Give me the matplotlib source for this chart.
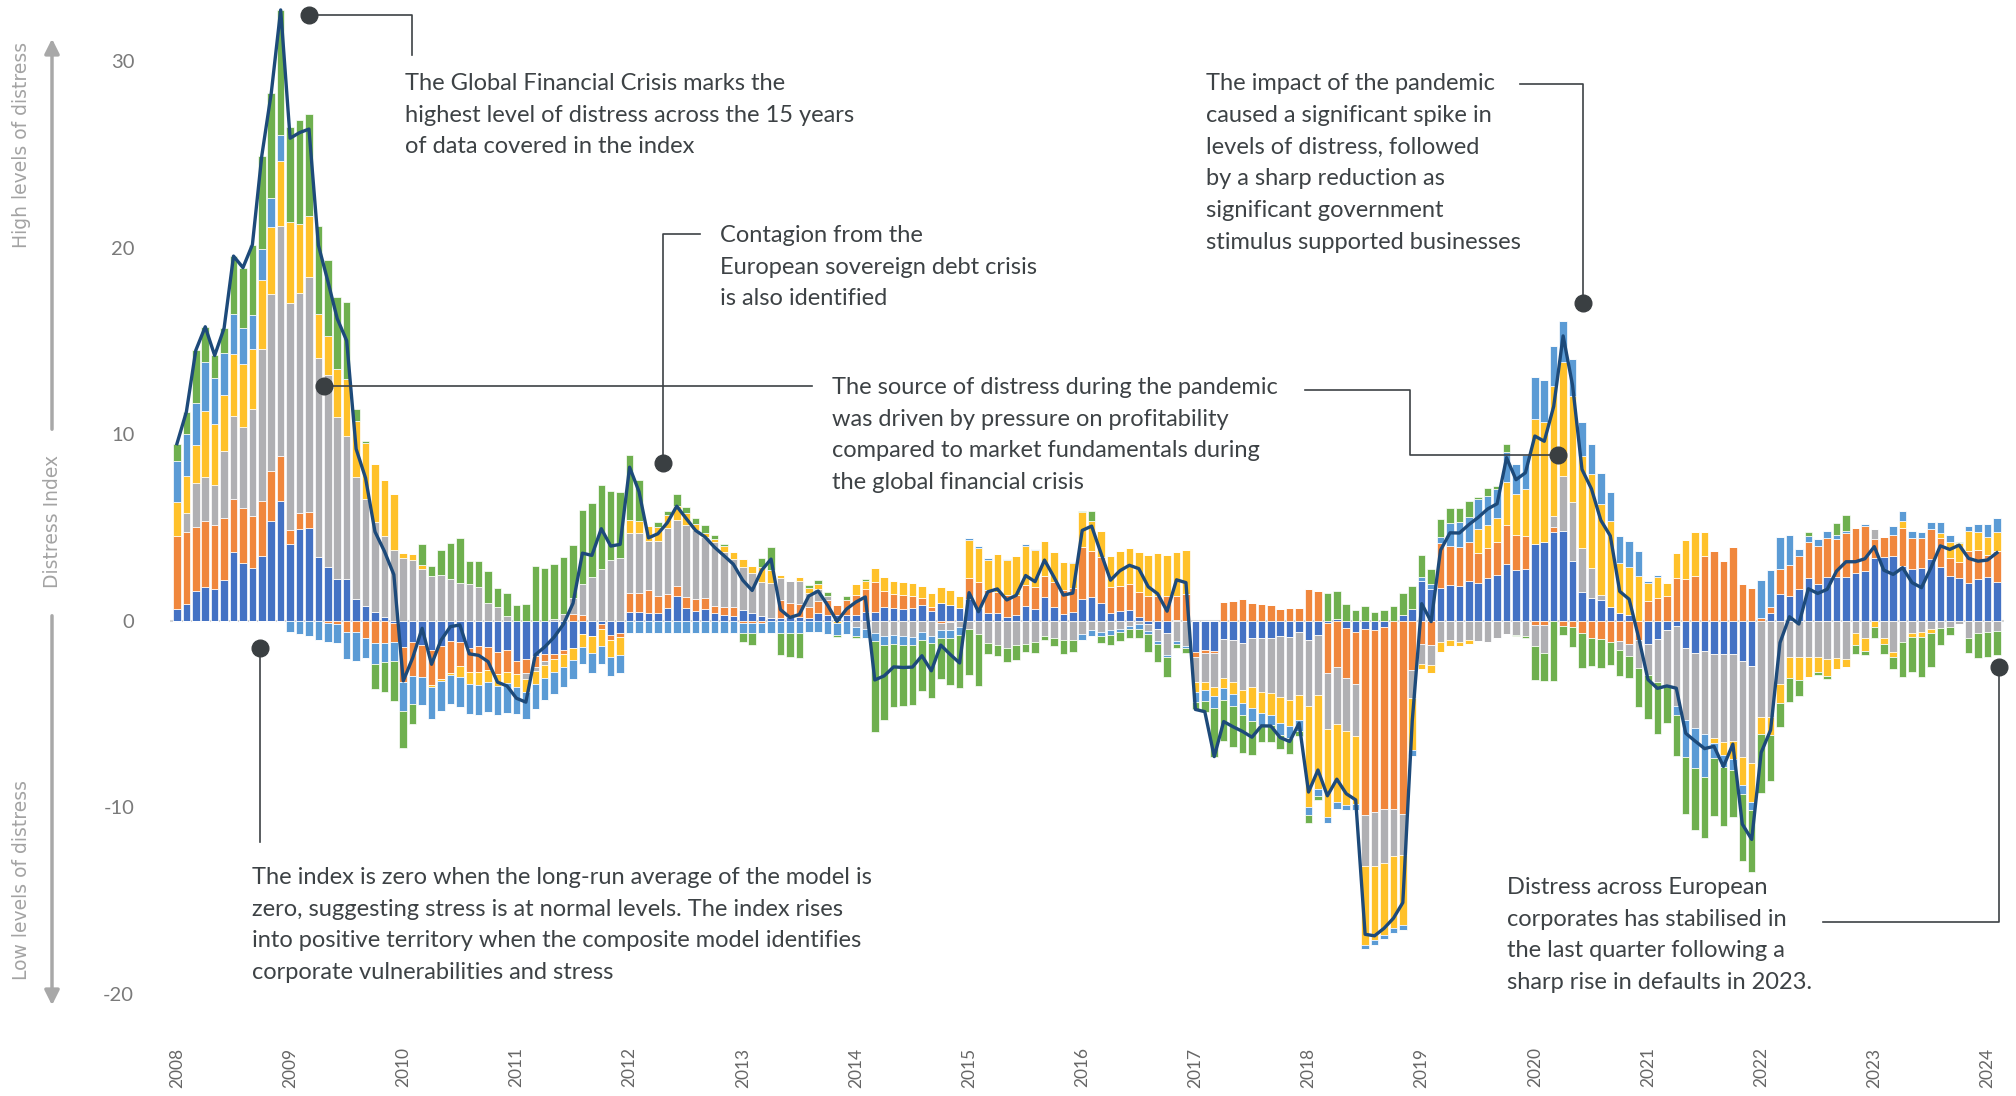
import numpy as np
import matplotlib
matplotlib.use("Agg")
import matplotlib.pyplot as plt

# monthly components of the distress index, Jan 2008 .. Feb 2024
blue = [0.64, 0.92, 1.57, 1.79, 1.68, 2.16, 3.67, 3.11, 2.8, 3.45, 5.35, 6.39,
        4.09, 4.93, 4.99, 3.39, 2.86, 2.24, 2.24, 1.18, 0.78, 0.45, 0.22, -0.1,
        -1.39, -1.13, -1.32, -1.57, -1.36, -1.07, -1.16, -1.45, -1.34, -1.43, -1.7, -1.57,
        -2.16, -2.05, -1.88, -1.79, -1.8, -1.57, -1.48, -0.71, -0.82, -0.18, -0.77, -0.68,
        0.45, 0.48, 0.39, 0.39, 0.7, 1.32, 0.7, 0.54, 0.61, 0.39, 0.3, 0.27,
        0.57, 0.43, 0.27, 0.12, 0.12, 0.18, 0.18, 0.12, 0.39, 0.3, 0.3, 0.3,
        0.3, 0.48, 0.48, 0.75, 0.7, 0.63, 0.66, 0.84, 0.54, 0.93, 0.84, 0.66,
        1.16, 0.66, 0.43, 0.39, 0.18, 0.3, 0.79, 0.63, 1.29, 0.75, 0.34, 0.45,
        1.14, 1.25, 0.96, 0.39, 0.54, 0.57, 0.18, -0.2, -0.45, -0.68, 0.05, 0,
        -1.66, -1.57, -1.63, -0.98, -1.04, -1.21, -0.95, -0.95, -0.95, -0.82, -0.89, -0.59,
        -1.04, -0.77, -0.14, 0.07, -0.41, -0.59, -0.45, -0.5, -0.32, 0, 0.3, 0.63,
        2.14, 1.7, 1.73, 1.91, 1.88, 2.13, 2.0, 2.27, 2.45, 3.02, 2.71, 2.76,
        4.09, 4.23, 4.75, 4.83, 3.2, 1.51, 1.21, 1.11, 0.75, 0.42, 0.32, 0,
        -1.27, -0.97, -0.52, -0.28, -1.47, -1.71, -1.63, -1.77, -1.77, -1.77, -2.16, -2.42,
        0, 0.43, 1.41, 1.34, 1.68, 2.27, 1.96, 2.36, 2.32, 2.32, 2.57, 2.68,
        3.34, 3.43, 3.48, 2.93, 2.77, 2.84, 3.3, 2.86, 2.41, 2.3, 2.0, 2.23,
        2.32, 2.09]
orange = [3.9, 3.84, 3.47, 3.53, 3.47, 3.33, 2.86, 2.94, 2.8, 2.94, 2.66, 2.46,
          0.76, 0.84, 0.84, 0, -0.1, -0.2, -0.6, -0.62, -0.95, -1.18, -1.18, -1.04,
          -1.88, -1.84, -1.68, -1.88, -1.77, -1.75, -1.27, -1.32, -1.43, -1.21, -1.16, -1.2,
          -0.7, -0.73, -0.63, -0.36, -0.25, -0.21, 0.34, 0.3, 0, -0.27, -0.27, -0.18,
          1.05, 1.0, 1.25, 0.95, 0.73, 0.55, 0.55, 0.61, 0.63, 0.41, 0.41, 0.45,
          -0.1, -0.1, -0.1, 0, 0.98, 0.75, 0.71, 0.63, 0.68, 0.8, 0.54, 0.8,
          1.1, 1.23, 1.61, 0.86, 0.73, 0.75, 0.66, 0.39, 0.18, -0.14, -0.09, 0,
          1.14, 1.43, 1.21, 1.16, 1.2, 1.07, 1.13, 1.2, 1.13, 1.34, 1.3, 1.32,
          2.82, 2.48, 2.46, 1.43, 1.34, 1.38, 1.38, 1.34, 1.34, 1.34, 1.29, 1.43,
          -0.27, -0.18, -0.09, 1.02, 1.07, 1.16, 0.96, 0.89, 0.84, 0.63, 0.66, 0.66,
          1.68, 1.59, -2.64, -2.5, -2.68, -2.82, -9.96, -9.77, -9.79, -10.1, -10.36, -2.64,
          -1.25, -1.3, 2.45, 2.09, 2.09, 2.07, 1.64, 1.64, 1.79, 2.11, 1.88, 1.79,
          -0.24, -0.24, 0.28, -0.28, -0.32, -0.68, -0.91, -0.97, -1.17, -1.11, -1.23, -1.03,
          1.05, 1.21, 1.31, 2.3, 2.26, 2.4, 3.49, 3.73, 3.2, 3.93, 1.97, 1.75,
          0.13, 0.32, 1.34, 1.64, 1.8, 1.93, 2.05, 2.09, 2.05, 2.36, 2.38, 2.41,
          1.04, 1.07, 1.14, 2.05, 1.68, 1.61, 1.61, 1.59, 0.96, 0.86, 1.73, 1.55,
          1.2, 1.64]
grey = [0, 1.0, 2.32, 2.41, 2.13, 3.59, 4.43, 4.31, 5.74, 8.18, 9.52, 12.3,
        12.2, 11.8, 12.6, 10.7, 10.3, 8.68, 7.65, 6.55, 5.74, 4.82, 4.34, 3.81,
        3.38, 3.25, 2.77, 2.39, 2.45, 2.21, 2.0, 1.95, 1.79, 0.95, 0.71, 0.27,
        0, -0.36, -0.18, -0.23, 0.09, 0.34, 0.86, 1.66, 2.34, 2.77, 3.25, 3.34,
        3.21, 3.2, 2.64, 2.93, 3.52, 3.52, 3.88, 3.71, 3.23, 3.43, 2.98, 2.57,
        2.29, 2.1, 1.82, 1.9, 1.21, 1.21, 1.25, 0.71, 0.61, 0.23, 0, 0,
        -0.32, -0.45, -0.64, -0.8, -0.77, -0.82, -0.86, -0.59, -0.8, -0.36, -0.41, -0.32,
        -0.45, -0.71, -1.18, -1.3, -1.45, -1.3, -1.25, -1.16, -0.82, -0.95, -1.04, -1.04,
        -0.73, -0.5, -0.59, -0.5, -0.45, -0.27, -0.18, -0.34, -0.64, -1.16, -1.1, -1.34,
        -1.34, -1.52, -1.86, -2.07, -2.27, -2.5, -2.63, -2.89, -2.95, -3.29, -3.36, -3.38,
        -3.54, -3.21, -3.04, -3.04, -2.82, -2.77, -2.77, -2.88, -2.89, -2.5, -2.2, -1.52,
        -1.09, -1.07, -1.13, -1.04, -1.13, -1.04, -1.07, -1.13, -0.95, -0.73, -0.77, -0.83,
        -1.13, -1.47, 0.56, 2.94, 3.18, 2.38, 1.63, 0.26, 0, -0.46, -0.64, -1.49,
        -1.65, -2.34, -2.94, -4.27, -3.87, -4.03, -4.45, -4.53, -4.73, -4.67, -5.16, -5.2,
        -5.18, -5.18, -3.39, -1.93, -1.93, -1.96, -1.96, -2.07, -2.02, -2.05, -0.68, -0.95,
        0.54, -0.95, -1.66, -1.13, -0.64, -0.59, -0.45, -0.41, -0.32, -0.18, -0.91, -0.68,
        -0.63, -0.55]
yellow = [1.8, 2.0, 2.04, 3.5, 3.25, 3.03, 3.33, 3.39, 3.25, 3.7, 3.59, 3.5,
          4.34, 3.7, 3.28, 2.38, 2.1, 2.58, 3.08, 2.97, 3.0, 3.14, 3.0, 2.97,
          0.23, 0.3, 0.21, -0.09, -0.1, -0.12, -0.57, -0.64, -0.68, -0.63, -0.63, -0.59,
          -0.71, -0.71, -0.71, -0.71, -0.71, -0.68, -0.63, -0.68, -0.93, -0.91, -0.89, -0.98,
          0.68, 0.68, 0.8, 0.73, 0.71, 0.75, 0.63, 0.32, 0.21, 0.14, 0.3, 0.38,
          0.43, 0.39, 0.77, 0.7, 0.12, 0, 0.21, 0.27, 0.27, 0, -0.1, 0,
          0.54, 0.41, 0.71, 0.75, 0.7, 0.68, 0.71, 0.64, 0.75, 0.89, 0.8, 0.66,
          2.02, 1.79, 1.61, 2.02, 1.88, 2.09, 2.11, 1.96, 1.86, 1.61, 1.48, 1.34,
          1.84, 1.61, 1.39, 1.66, 1.88, 1.93, 2.14, 2.18, 2.3, 2.18, 2.32, 2.36,
          -0.54, -0.45, -0.46, -0.57, -0.63, -0.71, -1.13, -1.13, -1.16, -1.36, -1.39, -1.34,
          -5.43, -5.05, -4.71, -4.21, -3.96, -3.64, -4.2, -3.96, -3.84, -3.88, -3.75, -2.77,
          -0.27, -0.45, -0.54, -0.3, -0.23, -0.23, 1.25, 1.21, 1.25, 2.29, 2.2, 2.52,
          6.75, 6.41, 7.0, 6.12, 5.66, 4.92, 5.02, 4.86, 4.59, 2.68, 2.54, 2.4,
          0.95, 1.13, 0.7, 1.35, 2.07, 2.38, 1.29, -0.28, -0.7, -0.99, -1.49, -2.12,
          -0.89, -0.95, -1.04, -1.16, -1.25, -1.07, -0.77, -0.88, -0.57, -0.46, -0.63, -0.66,
          -0.32, -0.3, -0.27, 0.36, -0.25, -0.27, -0.23, 0.23, 0.86, 0.98, 1.07, 0.98,
          0.95, 1.0]
light_blue = [2.2, 2.24, 2.27, 2.63, 2.46, 2.24, 2.18, 1.93, 1.79, 1.68, 1.57, 1.4,
              -0.62, -0.7, -0.81, -1.04, -1.05, -0.98, -1.46, -1.54, -1.06, -1.12, -1.06, -1.04,
              -1.57, -1.5, -1.52, -1.73, -1.61, -1.52, -1.64, -1.59, -1.61, -1.61, -1.57, -1.61,
              -1.43, -1.41, -1.36, -1.16, -1.16, -1.11, -1.02, -0.95, -1.04, -0.98, -1.02, -0.98,
              -0.64, -0.64, -0.64, -0.64, -0.64, -0.64, -0.64, -0.64, -0.64, -0.64, -0.64, -0.64,
              -0.54, -0.54, -0.54, -0.64, -0.68, -0.68, -0.68, -0.59, -0.59, -0.71, -0.66, -0.71,
              -0.52, -0.5, -0.43, -0.5, -0.48, -0.48, -0.45, -0.45, -0.41, -0.45, -0.41, -0.45,
              0.09, 0.13, 0.09, 0, 0.05, 0, 0.09, 0.05, 0, 0, 0.04, 0.04,
              -0.3, -0.32, -0.23, -0.27, -0.18, -0.18, -0.27, -0.18, -0.18, -0.13, -0.14, -0.14,
              -0.54, -0.59, -0.66, -0.63, -0.64, -0.63, -0.66, -0.63, -0.54, -0.66, -0.66, -0.6,
              -0.41, -0.36, -0.32, -0.36, -0.3, -0.36, -0.23, -0.27, -0.23, -0.27, -0.27, -0.32,
              0.18, 0.27, 0.29, 1.25, 1.34, 1.38, 1.63, 1.57, 1.57, 1.64, 1.59, 1.79,
              2.22, 2.24, 2.16, 2.16, 1.99, 1.83, 1.63, 1.67, 1.57, 1.43, 1.39, 1.35,
              0.14, 0.1, 0, -0.5, -1.99, -2.14, -2.3, -0.79, -0.64, -0.56, -0.5, -0.42,
              2.05, 1.96, 1.75, 1.61, 0.36, 0.34, 0.36, 0.36, 0.25, 0.13, 0, 0.07,
              0, 0, 0.45, 0.54, 0.36, 0.32, 0.39, 0.63, 0.36, 0, 0.29, 0.45,
              0.71, 0.75]
green = [0.95, 1.2, 2.83, 1.9, 1.23, 1.34, 3.08, 3.25, 3.78, 4.99, 5.6, 6.7,
         5.1, 5.6, 5.46, 4.7, 4.1, 3.87, 4.1, 0.67, 0.14, -1.34, -1.6, -2.13,
         -2.0, -1.07, 1.13, 0.54, 1.34, 1.93, 2.41, 1.27, 1.41, 1.73, 1.05, 1.2,
         0.84, 0.89, 2.93, 2.84, 2.95, 3.05, 2.86, 4.0, 3.95, 4.5, 3.7, 3.57,
         3.48, 2.2, 0, 0.3, 0.23, 0.64, 0.36, 0.3, 0.45, 0.21, 0.14, 0,
         -0.48, -0.66, 0.48, 1.22, -1.16, -1.29, -1.34, 0.18, 0.23, 0.21, -0.12, 0.23,
         -0.1, 0.1, -4.91, -4.02, -3.36, -3.27, -3.21, -2.71, -2.95, -2.18, -2.54, -2.82,
         -2.46, -2.82, -0.61, -0.57, -0.75, -0.8, -0.45, -0.59, -0.21, -0.41, -0.75, -0.63,
         0.07, 0.55, -0.39, -0.54, -0.45, -0.46, -0.46, -0.98, -0.93, -1.04, -0.23, -0.27,
         -0.41, -0.57, -2.59, -2.18, -2.18, -2.05, -1.84, -0.93, -0.89, -0.77, -0.84, -0.25,
         -0.45, -0.21, 1.46, 1.54, 0.89, 0.57, 0.79, 0.48, 0.57, 0.79, 1.16, 1.25,
         1.2, 0.8, 0.98, 0.8, 0.75, 0.84, 0.09, 0.43, 0.16, 0.41, -0.05, -0.1,
         -1.79, -1.55, -3.26, -0.5, -1.09, -1.85, -1.51, -1.55, -1.19, -1.39, -1.23, -2.12,
         -2.38, -2.76, -2.05, -2.22, -3.04, -3.36, -3.26, -3.1, -3.18, -2.56, -3.57, -3.32,
         -3.18, -2.45, -1.25, -1.29, -0.84, 0.2, -0.18, -0.18, 0.63, 0.86, -0.48, -0.23,
         -0.63, -0.54, -0.66, -1.91, -1.88, -2.14, -1.79, -0.89, -0.45, 0.09, -0.84, -1.34,
         -1.3, -1.29]

years = [str(y) for y in range(2008, 2025)]

components = [blue, orange, grey, yellow, light_blue, green]
colors = ['#4472C4', '#F0873D', '#B0B0B3', '#FFC12A', '#5B9BD5', '#6FB04F']

n = len(blue)
x = np.arange(n)
index = np.sum(np.array(components), axis=0)

fig = plt.figure(figsize=(20.16, 10.96), dpi=100)
ax = fig.add_axes([0.0845, 0.0849, 0.9093, 0.9137])

ax.axhline(0, color='#d6d6d6', lw=1.5, zorder=0)

pos_base = np.zeros(n)
neg_base = np.zeros(n)
for vals, c in zip(components, colors):
    v = np.array(vals, dtype=float)
    p = np.where(v > 0, v, 0)
    m = np.where(v < 0, v, 0)
    ax.bar(x, p, bottom=pos_base, width=0.8, color=c, edgecolor='white', linewidth=0.5, zorder=2)
    ax.bar(x, m, bottom=neg_base, width=0.8, color=c, edgecolor='white', linewidth=0.5, zorder=2)
    pos_base += p
    neg_base += m

ax.plot(x, index, color='#1D4A7A', lw=2.4, zorder=3)

ax.set_xlim(-0.7, n - 0.3)
ax.set_ylim(-20.5, 33.2)
for s in ax.spines.values():
    s.set_visible(False)
ax.set_yticks([-20, -10, 0, 10, 20, 30])
ax.set_yticklabels(['-20', '-10', '0', '10', '20', '30'], fontsize=14.5, color='#7a7a7a', family='Lato')
ax.set_xticks(np.arange(0, n, 12))
ax.set_xticklabels(years, rotation=90, fontsize=12.5, color='#666666', family='Lato')
ax.tick_params(axis='y', length=0, pad=26)
ax.tick_params(axis='x', length=0, pad=32)

# overlay in pixel coordinates for annotations
ov = fig.add_axes([0, 0, 1, 1])
ov.set_xlim(0, 2016)
ov.set_ylim(1096, 0)
ov.axis('off')
ov.patch.set_visible(False)

tcol = '#3d4245'
lcol = '#3d4245'
tkw = dict(fontsize=17, color=tcol, family='Lato', va='top', ha='left', linespacing=1.63)


def connector(xs, ys, dot):
    ov.plot(xs, ys, color=lcol, lw=1.2)
    ov.plot([dot[0]], [dot[1]], 'o', color='#3a3f42', ms=12)


connector([309, 412, 412], [15, 15, 55], (309, 15))
ov.text(405, 73, 'The Global Financial Crisis marks the\nhighest level of distress across the 15 years\nof data covered in the index', **tkw)

connector([663, 663, 700], [463, 234, 234], (663, 463))
ov.text(720, 225, 'Contagion from the\nEuropean sovereign debt crisis\nis also identified', **tkw)

connector([324, 812], [386, 386], (324, 386))
connector([1305, 1410, 1410, 1558], [390, 390, 455, 455], (1558, 455))
ov.text(832, 377, 'The source of distress during the pandemic\nwas driven by pressure on profitability\ncompared to market fundamentals during\nthe global financial crisis', **tkw)

connector([1520, 1583, 1583], [84, 84, 303], (1583, 303))
ov.text(1206, 73, 'The impact of the pandemic\ncaused a significant spike in\nlevels of distress, followed\nby a sharp reduction as\nsignificant government\nstimulus supported businesses', **tkw)

connector([260, 260], [648, 842], (260, 648))
ov.text(252, 867, 'The index is zero when the long-run average of the model is\nzero, suggesting stress is at normal levels. The index rises\ninto positive territory when the composite model identifies\ncorporate vulnerabilities and stress', **tkw)

connector([1999, 1999, 1823], [667, 922, 922], (1999, 667))
ov.text(1507, 877, 'Distress across European\ncorporates has stabilised in\nthe last quarter following a\nsharp rise in defaults in 2023.', **tkw)

# side arrows
acol = '#a8a8a8'
ov.annotate('', xy=(52, 36), xytext=(52, 432),
            arrowprops=dict(arrowstyle='-|>', color=acol, lw=2.5, mutation_scale=22))
ov.annotate('', xy=(52, 1008), xytext=(52, 613),
            arrowprops=dict(arrowstyle='-|>', color=acol, lw=2.5, mutation_scale=22))
skw = dict(rotation=90, color='#a3a3a3', fontsize=13.5, ha='center', va='center',
           family=['Liberation Sans Narrow', 'DejaVu Sans'])
ov.text(22, 145, 'High levels of distress', **skw)
ov.text(52, 521, 'Distress Index', **skw)
ov.text(22, 880, 'Low levels of distress', **skw)

fig.savefig('out.png', dpi=100)
